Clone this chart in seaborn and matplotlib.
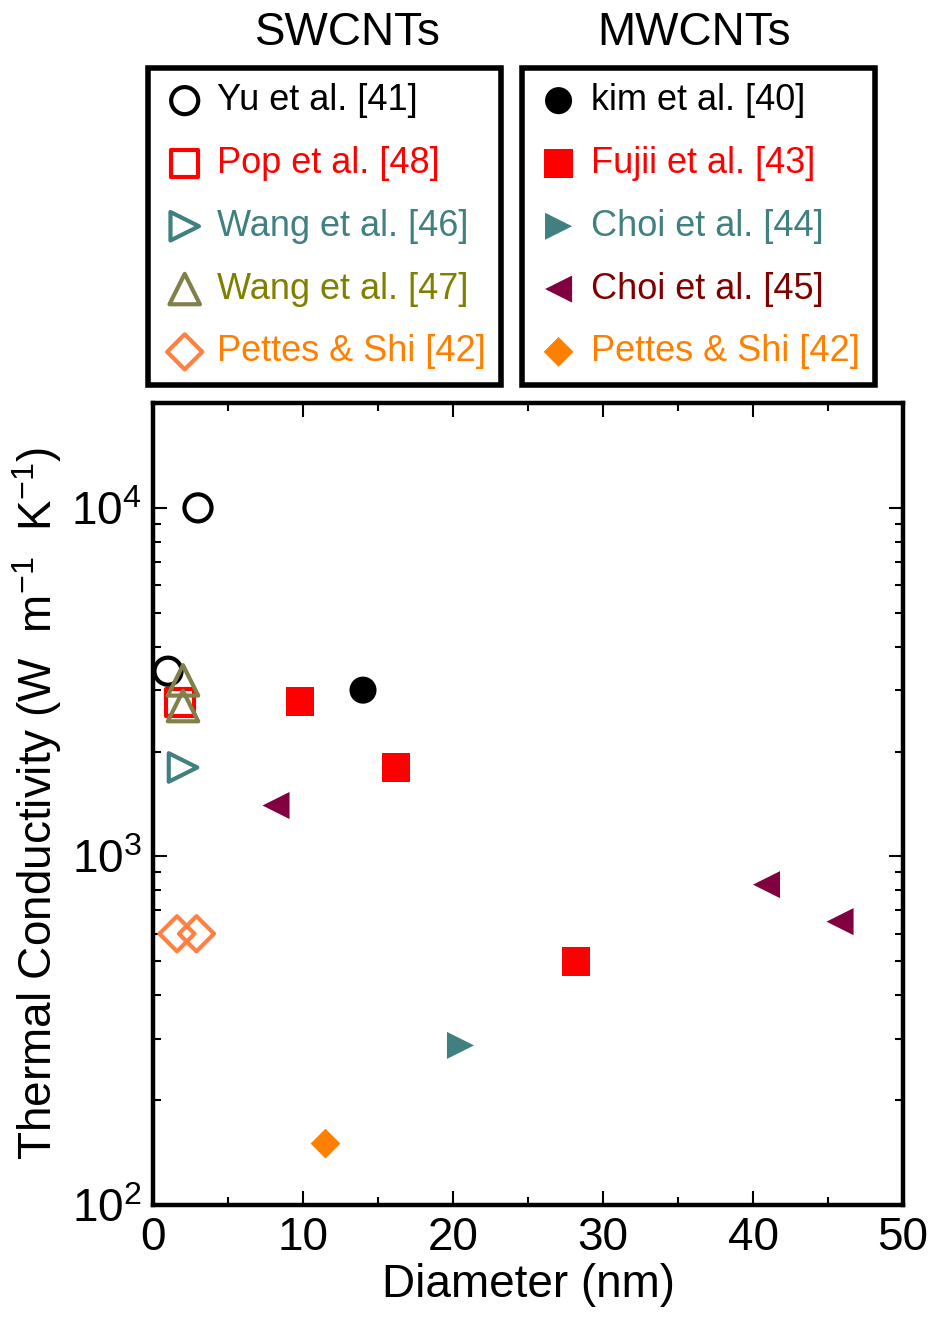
import math
import matplotlib
matplotlib.use("Agg")
import matplotlib.pyplot as plt
import matplotlib.ticker as mticker
from matplotlib import font_manager
import seaborn as sns

sns.set_style("ticks")

names = {f.name for f in font_manager.fontManager.ttflist}
narrow = "Liberation Sans Narrow" if "Liberation Sans Narrow" in names else "Liberation Sans"
plt.rcParams["font.family"] = ["Liberation Sans", "DejaVu Sans"]
plt.rcParams["mathtext.fontset"] = "custom"
plt.rcParams["mathtext.rm"] = narrow
plt.rcParams["mathtext.it"] = narrow
for key in ["text.color", "axes.labelcolor", "xtick.color", "ytick.color",
            "axes.edgecolor"]:
    plt.rcParams[key] = "black"

# SWCNT data (open markers)
yu_d = [3.0, 1.0]
yu_k = [10000, 3400]
pop_d = [1.8]
pop_k = [2760]
wang46_d = [2.0]
wang46_k = [1800]
wang47_d = [2.0, 2.0]
wang47_k = [3200, 2700]
pettes_sw_d = [1.6, 2.9]
pettes_sw_k = [600, 600]

# MWCNT data (filled markers)
kim_d = [14.0]
kim_k = [3000]
fujii_d = [9.8, 16.2, 28.2]
fujii_k = [2780, 1800, 500]
choi44_d = [20.5]
choi44_k = [287]
choi45_d = [8.2, 40.9, 45.8]
choi45_k = [1400, 830, 650]
pettes_mw_d = [11.5]
pettes_mw_k = [150]

sw_labels = ["Yu et al. [41]", "Pop et al. [48]", "Wang et al. [46]",
             "Wang et al. [47]", "Pettes & Shi [42]"]
mw_labels = ["kim et al. [40]", "Fujii et al. [43]", "Choi et al. [44]",
             "Choi et al. [45]", "Pettes & Shi [42]"]

fig = plt.figure(figsize=(9.3, 13.22), dpi=100)
ax = fig.add_axes([0.1645, 0.0885, 0.8065, 0.6067])

sw = [
    (yu_d, yu_k, "o", "black", "black", 380),
    (pop_d, pop_k, "s", "#ff0000", "#ff0000", 380),
    (wang46_d, wang46_k, ">", "#408080", "#408080", 420),
    (wang47_d, wang47_k, "^", "#80804a", "#808000", 480),
    (pettes_sw_d, pettes_sw_k, "D", "#ff8040", "#ff8000", 320),
]
mw = [
    (kim_d, kim_k, "o", "black", "black", 380),
    (fujii_d, fujii_k, "s", "#ff0000", "#ff0000", 420),
    (choi44_d, choi44_k, ">", "#408080", "#408080", 380),
    (choi45_d, choi45_k, "<", "#800040", "#800000", 380),
    (pettes_mw_d, pettes_mw_k, "D", "#ff8000", "#ff8000", 230),
]

sw_handles = []
for d, k, m, c, tc, s in sw:
    h = ax.scatter(d, k, marker=m, s=s, facecolors="none", edgecolors=c,
                   linewidths=3, zorder=3)
    sw_handles.append(h)
mw_handles = []
for d, k, m, c, tc, s in mw:
    sns.scatterplot(x=d, y=k, marker=m, s=s, color=c, edgecolor="none",
                    linewidth=0, ax=ax, zorder=3)
    mw_handles.append(ax.collections[-1])

ax.set_yscale("log")
ax.set_xlim(0, 50)
ax.set_ylim(100, 20000)
ax.xaxis.set_major_locator(mticker.MultipleLocator(10))
ax.xaxis.set_minor_locator(mticker.MultipleLocator(5))
ax.yaxis.set_major_locator(mticker.LogLocator(base=10))
ax.yaxis.set_minor_locator(mticker.LogLocator(base=10, subs=range(2, 10)))
ax.yaxis.set_minor_formatter(mticker.NullFormatter())
ax.yaxis.set_major_formatter(mticker.FuncFormatter(
    lambda v, p: r"$\mathregular{10^{%d}}$" % round(math.log10(v))))

for sp in ax.spines.values():
    sp.set_linewidth(3.2)
    sp.set_visible(True)
ax.tick_params(which="both", direction="in", top=True, right=True, width=1.5)
ax.tick_params(which="major", length=10, labelsize=33, pad=8)
ax.tick_params(which="minor", length=6)
for t in ax.get_xticklabels() + ax.get_yticklabels():
    t.set_fontfamily(narrow)

ax.set_xlabel("Diameter (nm)", fontsize=33, fontfamily=narrow, labelpad=2)
ax.set_ylabel(r"Thermal Conductivity (W  m$^{-1}$  K$^{-1}$)", fontsize=33)
ax.yaxis.set_label_coords(-0.118, 0.5)


def make_legend(handles, labels, cols, x0):
    leg = fig.legend(handles, labels, loc="upper left",
                     bbox_to_anchor=(x0, 0.9486), bbox_transform=fig.transFigure,
                     fontsize=26, frameon=True, fancybox=False, framealpha=1,
                     edgecolor="black", borderpad=0.42, labelspacing=0.77,
                     handletextpad=0.3, handlelength=1.2, borderaxespad=0)
    leg.get_frame().set_linewidth(4)
    for txt, c in zip(leg.get_texts(), cols):
        txt.set_color(c)
    return leg


make_legend(sw_handles, sw_labels, [s[4] for s in sw], 0.159)
make_legend(mw_handles, mw_labels, [s[4] for s in mw], 0.561)
fig.text(0.374, 0.975, "SWCNTs", fontsize=33, ha="center", va="center")
fig.text(0.746, 0.975, "MWCNTs", fontsize=33, ha="center", va="center")

fig.savefig("out.png", dpi=100)
